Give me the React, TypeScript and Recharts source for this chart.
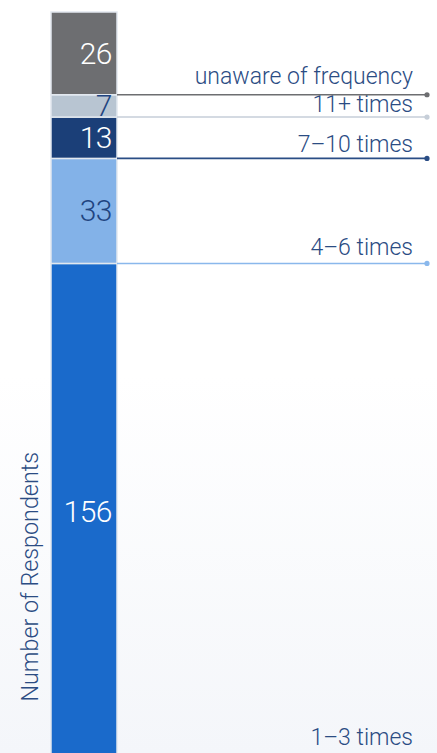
import { Bar, BarChart, LabelList, XAxis, YAxis } from "recharts";

const categories = ["1–3 times", "4–6 times", "7–10 times", "11+ times", "unaware of frequency"];
const respondents = [156, 33, 13, 7, 26];
const axisTitle = "Number of Respondents";

const fills = ["#1a6acb", "#83b2e8", "#1b3f78", "#b8c5d2", "#6d6e71"];
const lineColors = ["#3f7fd0", "#8ab8ec", "#2a4d85", "#c6ced8", "#6d6e71"];
const valueColors = ["#ffffff", "#1f4480", "#ffffff", "#1f4480", "#ffffff"];
// how far each category label's baseline sits above its line
const labelLift = [15, 8, 6, 5, 11];
const TEXT = "#2b4c83";
const FONT = "Roboto, 'Liberation Sans', sans-serif";
const LINE_END = 427;

const total = respondents.reduce((a, b) => a + b, 0);
const row: Record<string, number | string> = { name: "all" };
respondents.forEach((v, i) => (row[`s${i}`] = v));
const data = [row];

function segmentShape(i: number) {
  return (props: any) => {
    const { x, y, width, height } = props;
    const bottom = y + height;
    return (
      <g>
        <rect x={x} y={y} width={width} height={height} fill={fills[i]} stroke="#e2e8ef" strokeWidth={1.5} />
        <line x1={x + width} y1={bottom} x2={LINE_END} y2={bottom} stroke={lineColors[i]} strokeWidth={1.6} />
        <circle cx={LINE_END} cy={bottom} r={2.6} fill={lineColors[i]} />
        <text
          x={LINE_END - 14}
          y={bottom - labelLift[i]}
          textAnchor="end"
          fill={TEXT}
          fontSize={23}
          fontWeight={300}
          fontFamily={FONT}
        >
          {categories[i]}
        </text>
      </g>
    );
  };
}

function valueLabel(i: number) {
  return (props: any) => {
    const { x, y, width, height, value } = props;
    return (
      <text
        x={x + width - 5}
        y={y + height / 2}
        textAnchor="end"
        dominantBaseline="central"
        fill={valueColors[i]}
        fontSize={30}
        fontWeight={300}
        fontFamily={FONT}
        letterSpacing={-0.5}
      >
        {value}
      </text>
    );
  };
}

export default function App() {
  return (
    <div
      style={{
        position: "absolute",
        top: 0,
        left: 0,
        width: 437,
        height: 753,
        overflow: "hidden",
        background: "linear-gradient(to bottom, #ffffff 0%, #ffffff 50%, #f4f6fa 100%)",
      }}
    >
      <BarChart
        width={437}
        height={760}
        data={data}
        margin={{ top: 12, right: 316, bottom: 0, left: 0 }}
        barCategoryGap={0}
        barGap={0}
      >
        <XAxis dataKey="name" hide />
        <YAxis
          width={47}
          domain={[0, total]}
          tick={false}
          axisLine={false}
          tickLine={false}
          label={(p: any) => {
            const vb = p.viewBox || {};
            const cx = 30;
            const cy = (vb.y ?? 12) + (vb.height ?? 748) * 0.755;
            return (
              <text
                x={cx}
                y={cy}
                transform={`rotate(-90, ${cx}, ${cy})`}
                textAnchor="middle"
                dominantBaseline="central"
                fill={TEXT}
                fontSize={23.3}
                fontWeight={300}
                fontFamily={FONT}
              >
                {axisTitle}
              </text>
            );
          }}
        />
        {respondents.map((_, i) => (
          <Bar key={i} dataKey={`s${i}`} stackId="a" barSize={66} shape={segmentShape(i)} isAnimationActive={false}>
            <LabelList dataKey={`s${i}`} content={valueLabel(i)} />
          </Bar>
        ))}
      </BarChart>
    </div>
  );
}
